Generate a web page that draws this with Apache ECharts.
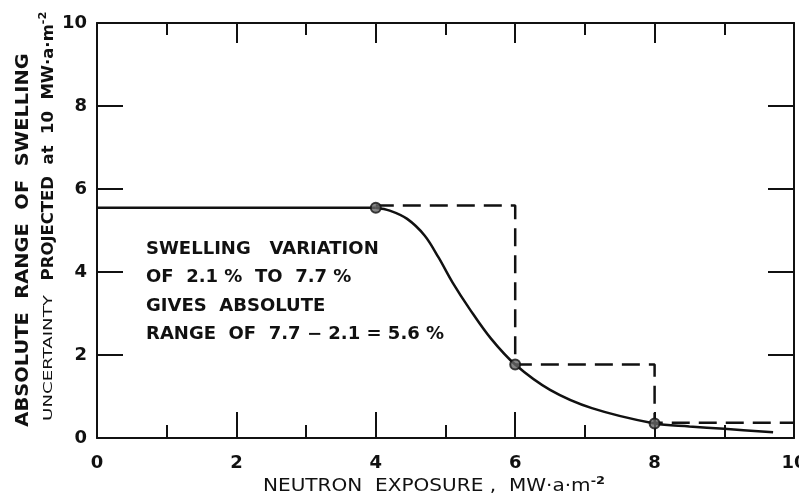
<!DOCTYPE html>
<html>
<head>
<meta charset="utf-8">
<script src="https://cdn.jsdelivr.net/npm/echarts@6/dist/echarts.min.js"></script>
<style>html,body{margin:0;padding:0;background:#fff;}#c{width:799px;height:503px;}</style>
</head>
<body>
<div id="c"></div>
<script>
// ---- data ----
var xTicks = [0, 2, 4, 6, 8, 10];
var yTicks = [0, 2, 4, 6, 8, 10];
var flatX = [0, 4];
var flatY = [5.55, 5.55];
var curveX = [4, 4.2, 4.45, 4.7, 4.9, 5.1, 5.35, 5.65, 6, 6.5, 7.1, 8, 8.5, 9, 9.7];
var curveY = [5.55, 5.48, 5.28, 4.88, 4.35, 3.75, 3.1, 2.4, 1.77, 1.16, 0.72, 0.35, 0.28, 0.22, 0.14];
var dashX = [4, 6, 6, 8, 8, 10];
var dashY = [5.6, 5.6, 1.77, 1.77, 0.37, 0.37];
var pointX = [4, 6, 8];
var pointY = [5.55, 1.77, 0.35];
var noteLines = ['SWELLING   VARIATION', 'OF  2.1 %  TO  7.7 %', 'GIVES  ABSOLUTE', 'RANGE  OF  7.7 \u2212 2.1 = 5.6 %'];

function zip(a, b) { return a.map(function (v, i) { return [v, b[i]]; }); }

var FONT = 'DejaVu Sans';
var chart = echarts.init(document.getElementById('c'), null, { renderer: 'canvas' });
var lineCol = '#111';

var option = {
  animation: false,
  backgroundColor: '#fff',
  grid: { left: 97, right: 5, top: 23, bottom: 65, containLabel: false, outerBoundsMode: 'none' },
  xAxis: [{
    type: 'value', min: 0, max: 10, interval: 2, position: 'bottom',
    axisLine: { show: true, onZero: false, lineStyle: { color: lineCol, width: 2 } },
    axisTick: { show: true, inside: true, length: 26, lineStyle: { color: lineCol, width: 2 } },
    minorTick: { show: true, splitNumber: 2, length: 13, lineStyle: { color: lineCol, width: 2 } },
    splitLine: { show: false },
    axisLabel: { color: '#111', fontFamily: FONT, fontSize: 18, fontWeight: 'bold', margin: 16,
      formatter: function (v) { return xTicks.indexOf(v) >= 0 ? String(v) : ''; } }
  }, {
    type: 'value', min: 0, max: 10, interval: 2, position: 'top',
    axisLine: { show: true, onZero: false, lineStyle: { color: lineCol, width: 2 } },
    axisTick: { show: true, inside: true, length: 20, lineStyle: { color: lineCol, width: 2 } },
    minorTick: { show: true, splitNumber: 2, length: 12, lineStyle: { color: lineCol, width: 2 } },
    splitLine: { show: false },
    axisLabel: { show: false }
  }],
  yAxis: [{
    type: 'value', min: 0, max: 10, interval: 2, position: 'left',
    axisLine: { show: true, onZero: false, lineStyle: { color: lineCol, width: 2 } },
    axisTick: { show: true, inside: true, length: 26, lineStyle: { color: lineCol, width: 2 } },
    splitLine: { show: false },
    axisLabel: { color: '#111', fontFamily: FONT, fontSize: 18, fontWeight: 'bold', margin: 10,
      formatter: function (v) { return yTicks.indexOf(v) >= 0 ? String(v) : ''; } }
  }, {
    type: 'value', min: 0, max: 10, interval: 2, position: 'right',
    axisLine: { show: true, onZero: false, lineStyle: { color: lineCol, width: 2 } },
    axisTick: { show: true, inside: true, length: 26, lineStyle: { color: lineCol, width: 2 } },
    splitLine: { show: false },
    axisLabel: { show: false }
  }],
  series: [
    { type: 'line', data: zip(flatX, flatY), showSymbol: false, lineStyle: { color: lineCol, width: 2.5 }, z: 3 },
    { type: 'line', data: zip(curveX, curveY), smooth: 0.35, showSymbol: false, lineStyle: { color: lineCol, width: 2.5 }, z: 3 },
    { type: 'line', data: zip(dashX, dashY), showSymbol: false, lineStyle: { color: lineCol, width: 2.5, type: [18, 9] }, z: 2 },
    { type: 'scatter', data: zip(pointX, pointY), symbol: 'circle', symbolSize: 10,
      itemStyle: { color: '#666', borderColor: '#111', borderWidth: 2 }, z: 4 }
  ],
  graphic: [
    { type: 'text', x: 146, y: 235, scaleX: 1.06, style: { text: noteLines.join('\n'), fill: '#111',
      font: 'bold 17px "DejaVu Sans"', lineHeight: 28.5 } },
    { type: 'text', x: 23, y: 240, rotation: Math.PI / 2, scaleX: 1.08,
      style: { text: 'ABSOLUTE  RANGE  OF  SWELLING', fill: '#111', font: 'bold 18px "DejaVu Sans"',
        align: 'center', verticalAlign: 'middle' } },
    { type: 'text', x: 49, y: 358, rotation: Math.PI / 2, scaleX: 1.4,
      style: { text: 'UNCERTAINTY', fill: '#111', font: '13px "DejaVu Sans"',
        align: 'center', verticalAlign: 'middle' } },
    { type: 'text', x: 49, y: 146, rotation: Math.PI / 2, scaleX: 1.03,
      style: { text: '{b|PROJECTED  at  10  MW\u00b7a\u00b7m}{sup|-2}', fill: '#111',
        align: 'center', verticalAlign: 'middle',
        rich: {
          b: { fontFamily: FONT, fontSize: 16, fontWeight: 'bold', fill: '#111' },
          sup: { fontFamily: FONT, fontSize: 11, fontWeight: 'bold', fill: '#111', padding: [0, 0, 12, 0] }
        } } },
    { type: 'text', x: 434, y: 487, scaleX: 1.18,
      style: { text: '{n|NEUTRON  EXPOSURE ,  MW\u00b7a\u00b7m}{sup|-2}', fill: '#111',
        align: 'center', verticalAlign: 'middle',
        rich: {
          n: { fontFamily: FONT, fontSize: 17, fill: '#111' },
          sup: { fontFamily: FONT, fontSize: 11, fontWeight: 'bold', fill: '#111', padding: [0, 0, 12, 0] }
        } } }
  ]
};
chart.setOption(option);
</script>
</body>
</html>
